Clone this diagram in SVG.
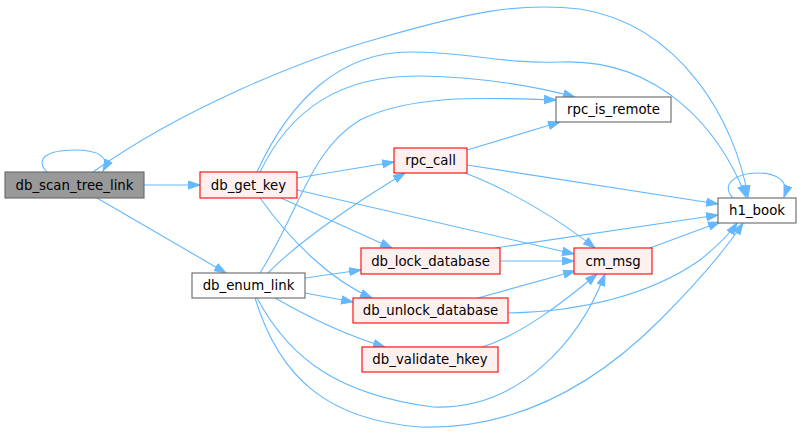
<svg xmlns="http://www.w3.org/2000/svg" width="801" height="434" viewBox="0 0 801 434">
<style>
.e{fill:none;stroke:#63b8ff;stroke-width:1.1;marker-end:url(#a)}
.n rect{stroke-width:1.1}
.g rect{fill:#999999;stroke:#666666}
.r rect{fill:#fff0f0;stroke:#ff0000}
.w rect{fill:#ffffff;stroke:#666666}
text{font-family:"DejaVu Sans",sans-serif;font-size:13.3px;fill:#000000;text-anchor:middle}
</style>
<defs>
<marker id="a" markerUnits="userSpaceOnUse" markerWidth="13" markerHeight="10" refX="12" refY="4.5" orient="auto">
<path d="M0.5,0.5 L12,4.5 L0.5,8.5 z" fill="#63b8ff" stroke="#63b8ff" stroke-width="1"/>
</marker>
</defs>
<rect width="801" height="434" fill="#ffffff"/>
<g id="edges">
<path class="e" d="M47,172 C35,160 45,150 75,150 C100,150 110,158 103,171"/>
<path class="e" d="M144,185 L200,185"/>
<path class="e" d="M97,198 L226,273"/>
<path class="e" d="M93,172 C180,110 300,60 380,38 C470,12 520,2 580,9 C680,25 735,120 748,197"/>
<path class="e" d="M260,172 C290,110 340,75 420,76 C480,77 530,85 575,97"/>
<path class="e" d="M257,172 C290,100 340,52 410,52 C470,52 500,64 560,62 C660,58 720,130 746,197"/>
<path class="e" d="M297,178 L394,162"/>
<path class="e" d="M281,198 L392,248"/>
<path class="e" d="M260,198 C290,240 330,280 372,298"/>
<path class="e" d="M297,190 L574,254"/>
<path class="e" d="M268,273 C300,240 360,200 405,173"/>
<path class="e" d="M260,273 C300,210 310,150 360,120 C410,95 480,97 556,100"/>
<path class="e" d="M305,278 L361,270"/>
<path class="e" d="M305,293 L353,302"/>
<path class="e" d="M275,298 C310,318 345,335 385,347"/>
<path class="e" d="M257,298 C290,360 340,395 433,407 C520,410 580,340 605,274"/>
<path class="e" d="M255,298 C280,380 330,420 420,427 C520,430 600,380 660,320 C700,280 725,250 743,223"/>
<path class="e" d="M467,150 L560,122"/>
<path class="e" d="M467,165 L718,204"/>
<path class="e" d="M465,173 C510,190 560,220 595,248"/>
<path class="e" d="M500,261 L574,261"/>
<path class="e" d="M495,248 L718,215"/>
<path class="e" d="M478,298 L575,271"/>
<path class="e" d="M508,313 C580,312 650,295 700,260 C715,248 728,236 737,223"/>
<path class="e" d="M482,347 C520,335 560,305 597,274"/>
<path class="e" d="M650,248 L720,222"/>
<path class="e" d="M733,198 C720,185 735,173 758,173 C775,173 790,180 784,197"/>
</g>
<g id="db_scan_tree_link" class="n g"><rect x="5" y="172" width="139" height="26"/><text x="74.5" y="189.5">db_scan_tree_link</text></g>
<g id="db_get_key" class="n r"><rect x="200" y="172" width="97" height="26"/><text x="248.5" y="189.5">db_get_key</text></g>
<g id="db_enum_link" class="n w"><rect x="192" y="273" width="113" height="25"/><text x="248.5" y="290">db_enum_link</text></g>
<g id="rpc_is_remote" class="n w"><rect x="556" y="97" width="115" height="25"/><text x="613.5" y="114">rpc_is_remote</text></g>
<g id="rpc_call" class="n r"><rect x="394" y="148" width="73" height="25"/><text x="430.5" y="165">rpc_call</text></g>
<g id="db_lock_database" class="n r"><rect x="361" y="248" width="139" height="26"/><text x="430.5" y="265.5">db_lock_database</text></g>
<g id="cm_msg" class="n r"><rect x="574" y="248" width="78" height="26"/><text x="613" y="265.5">cm_msg</text></g>
<g id="db_unlock_database" class="n r"><rect x="353" y="298" width="155" height="25"/><text x="430.5" y="315">db_unlock_database</text></g>
<g id="db_validate_hkey" class="n r"><rect x="362" y="347" width="136" height="25"/><text x="430" y="364">db_validate_hkey</text></g>
<g id="h1_book" class="n w"><rect x="718" y="198" width="78" height="25"/><text x="757" y="215">h1_book</text></g>
</svg>
